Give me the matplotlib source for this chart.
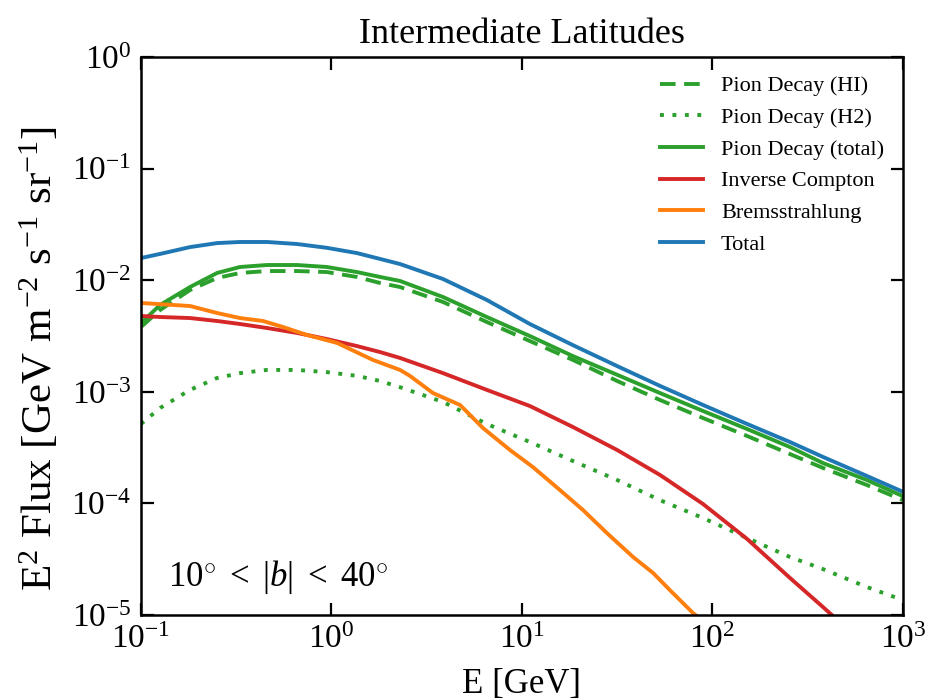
import numpy as np
import matplotlib
matplotlib.use("Agg")
import matplotlib.pyplot as plt
from matplotlib.ticker import NullLocator, LogLocator

plt.rcParams['font.family'] = ['Liberation Serif', 'DejaVu Serif']
plt.rcParams['mathtext.fontset'] = 'custom'
plt.rcParams['mathtext.rm'] = 'Liberation Serif'
plt.rcParams['mathtext.it'] = 'Liberation Serif:italic'
plt.rcParams['mathtext.bf'] = 'Liberation Serif:bold'

# Energy grid (GeV) shared by the smooth curves
energy = [0.1, 0.126, 0.181, 0.251, 0.331, 0.458, 0.659, 0.946, 1.36, 1.80,
          2.29, 3.85, 6.54, 11.0, 18.5, 31.6, 53.0, 89.2, 152, 255, 380, 647, 1000]

total = [0.0158, 0.0172, 0.0198, 0.0215, 0.0220, 0.0220, 0.0211, 0.0195, 0.0175,
         0.0155, 0.01396, 0.01025, 0.00665, 0.00405, 0.00262, 0.00170, 0.00113,
         7.62e-4, 5.15e-4, 3.55e-4, 2.61e-4, 1.76e-4, 1.27e-4]

pion_total = [0.00413, 0.00600, 0.00869, 0.01161, 0.01313, 0.01368, 0.01368,
              0.01313, 0.01183, 0.01069, 0.00984, 0.00707, 0.00468, 0.00316,
              0.00209, 0.00142, 9.75e-4, 6.73e-4, 4.64e-4, 3.20e-4, 2.30e-4,
              1.62e-4, 1.16e-4]

pion_hi = [0.00381, 0.00541, 0.00817, 0.01047, 0.01161, 0.01208, 0.01208,
           0.01183, 0.01069, 0.00944, 0.00869, 0.00638, 0.00422, 0.00285,
           0.00193, 0.00125, 8.45e-4, 5.82e-4, 4.02e-4, 2.77e-4, 2.08e-4,
           1.46e-4, 1.07e-4]

pion_h2 = [5.15e-4, 7.16e-4, 1.04e-3, 1.33e-3, 1.47e-3, 1.57e-3, 1.57e-3,
           1.50e-3, 1.39e-3, 1.25e-3, 1.10e-3, 8.11e-4, 5.15e-4, 3.55e-4,
           2.40e-4, 1.62e-4, 1.07e-4, 7.40e-5, 4.90e-5, 3.31e-5, 2.58e-5,
           1.78e-5, 1.36e-5]

# Inverse Compton drops out of range near 500 GeV
ic_energy = [0.1, 0.126, 0.181, 0.251, 0.331, 0.458, 0.659, 0.946, 1.36, 1.80,
             2.29, 3.85, 6.54, 11.0, 18.5, 31.6, 53.0, 89.2, 152, 255, 380, 467]
ic = [4.78e-3, 4.68e-3, 4.58e-3, 4.31e-3, 4.05e-3, 3.73e-3, 3.37e-3, 2.97e-3,
      2.57e-3, 2.27e-3, 2.01e-3, 1.47e-3, 1.04e-3, 7.46e-4, 4.84e-4, 3.01e-4,
      1.80e-4, 9.88e-5, 4.80e-5, 2.15e-5, 1.18e-5, 8.6e-6]

# Bremsstrahlung (coarser sampling, visible kinks)
brems_energy = [0.1, 0.181, 0.251, 0.331, 0.437, 0.556, 0.743, 1.07, 1.65, 2.29,
                2.58, 3.41, 4.73, 6.24, 8.65, 11.4, 15.8, 20.9, 27.9, 38.3, 48.8,
                59.8, 79.1, 89.1]
brems = [6.25e-3, 5.87e-3, 5.08e-3, 4.58e-3, 4.31e-3, 3.81e-3, 3.23e-3, 2.74e-3,
         1.93e-3, 1.57e-3, 1.39e-3, 9.75e-4, 7.62e-4, 4.74e-4, 3.01e-4, 2.12e-4,
         1.32e-4, 8.73e-5, 5.43e-5, 3.31e-5, 2.38e-5, 1.67e-5, 1.04e-5, 8.9e-6]

green = '#2ca02c'
red = '#d62728'
orange = '#ff7f0e'
blue = '#1f77b4'
lw = 2.8

fig = plt.figure(figsize=(9.25, 7), dpi=100)
ax = fig.add_axes([0.1524, 0.1214, 0.8238, 0.7972])

ax.plot(energy, pion_hi, color=green, lw=lw, ls=(0, (4, 2.2)), label='Pion Decay (HI)')
ax.plot(energy, pion_h2, color=green, lw=lw, ls=(0, (1, 2.2)), label='Pion Decay (H2)')
ax.plot(energy, pion_total, color=green, lw=lw, label='Pion Decay (total)')
ax.plot(ic_energy, ic, color=red, lw=lw, label='Inverse Compton')
ax.plot(brems_energy, brems, color=orange, lw=lw, label='Bremsstrahlung')
ax.plot(energy, total, color=blue, lw=lw, label='Total')

ax.set_xscale('log')
ax.set_yscale('log')
ax.set_xlim(0.1, 1000)
ax.set_ylim(1e-5, 1)
ax.xaxis.set_major_locator(LogLocator(base=10, numticks=10))
ax.yaxis.set_major_locator(LogLocator(base=10, numticks=10))
ax.xaxis.set_minor_locator(NullLocator())
ax.yaxis.set_minor_locator(NullLocator())

ax.tick_params(which='major', direction='in', length=9, width=1.6,
               top=True, right=True, labelsize=24, pad=7)
for sp in ax.spines.values():
    sp.set_linewidth(1.8)

ax.set_title('Intermediate Latitudes', fontsize=26, pad=10)
ax.set_xlabel('E [GeV]', fontsize=25, labelpad=9)
ax.set_ylabel(r'E$^2$ Flux [GeV m$^{-2}$ s$^{-1}$ sr$^{-1}$]', fontsize=31)
ax.yaxis.set_label_coords(-0.105, 0.46)

ax.text(0.035, 0.068, r'$10^{\circ}\ <\ |b|\ <\ 40^{\circ}$', transform=ax.transAxes,
        fontsize=25, ha='left', va='center')

ax.legend(loc='upper right', frameon=False, fontsize=16, handlelength=1.95,
          labelspacing=0.5, handletextpad=0.8, borderaxespad=0.45)

fig.savefig('out.png', dpi=100)
